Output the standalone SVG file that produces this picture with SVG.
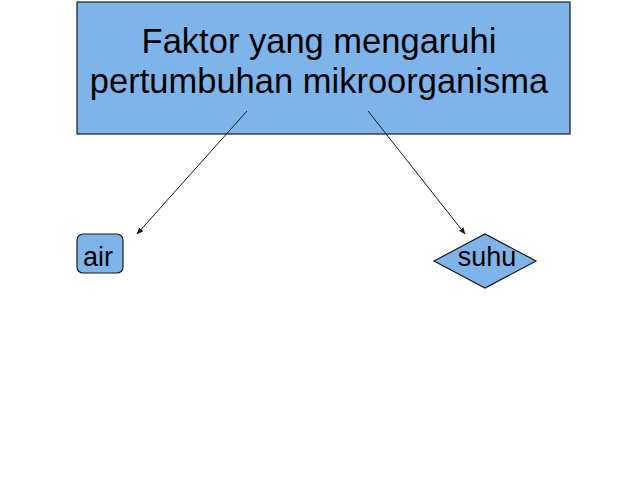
<svg xmlns="http://www.w3.org/2000/svg" width="638" height="479" viewBox="0 0 638 479">
<defs>
<style>
.shape{fill:#7eb4ea;stroke:#1a1a1a;stroke-width:1.2}
.t{font-family:"Liberation Sans",Arial,sans-serif;fill:#000;text-anchor:middle}
.c{stroke:#1a1a1a;stroke-width:1;fill:none;marker-end:url(#ah)}
</style>
<marker id="ah" viewBox="0 0 10 10" refX="9" refY="5" markerWidth="7" markerHeight="7" orient="auto" markerUnits="userSpaceOnUse">
<path d="M0,1 L10,5 L0,9 Z" fill="#1a1a1a"/>
</marker>
</defs>
<rect width="638" height="479" fill="#fff"/>
<g id="main">
<rect class="shape" x="77" y="2" width="493" height="132"/>
<text class="t" x="319" y="53" font-size="34.5">Faktor yang mengaruhi</text>
<text class="t" x="319" y="93" font-size="34.5">pertumbuhan mikroorganisma</text>
</g>
<g id="air">
<rect class="shape" x="77" y="234" width="46" height="39" rx="6"/>
<text class="t" x="98" y="266" font-size="27">air</text>
</g>
<g id="suhu">
<polygon class="shape" points="434,261 485,234 536,261 485,288"/>
<text class="t" x="487" y="266" font-size="27">suhu</text>
</g>
<g id="connectors">
<line class="c" x1="247" y1="111" x2="137" y2="234"/>
<line class="c" x1="368" y1="111" x2="465" y2="234"/>
</g>
</svg>
